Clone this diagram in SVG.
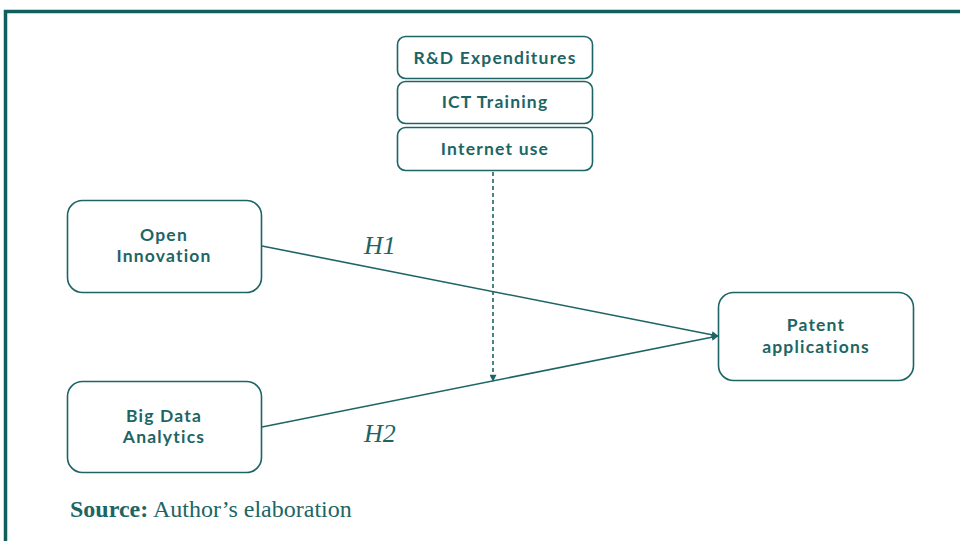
<svg xmlns="http://www.w3.org/2000/svg" width="960" height="541" viewBox="0 0 960 541">
<style>
.box{fill:#fff;stroke:#1d6565;stroke-width:1.6}
.t{font-family:Lato,"Open Sans",sans-serif;font-size:17.5px;font-weight:bold;letter-spacing:1.2px;fill:#1d6565;text-anchor:middle}
.h{font-family:"Liberation Serif",serif;font-style:italic;font-size:26px;fill:#1d6565}
.c{stroke:#1d6565;stroke-width:1.6;fill:none}
</style>
<defs>
<marker id="a" viewBox="0 0 10 10" refX="9" refY="5" markerWidth="8" markerHeight="7" orient="auto" markerUnits="userSpaceOnUse"><path d="M0,0L10,5L0,10z" fill="#1d6565"/></marker>
</defs>
<rect width="960" height="541" fill="#fff"/>
<path d="M5.5,541V11.5H960" stroke="#0f5f5f" stroke-width="3.5" fill="none"/>
<g id="rd"><rect class="box" x="397.5" y="36.5" width="195" height="42" rx="8"/><text class="t" x="495" y="64">R&amp;D Expenditures</text></g>
<g id="ict"><rect class="box" x="397.5" y="81.5" width="195" height="42" rx="8"/><text class="t" x="495" y="108">ICT Training</text></g>
<g id="internet"><rect class="box" x="397.5" y="127.5" width="195" height="43" rx="8"/><text class="t" x="495" y="155">Internet use</text></g>
<g id="open"><rect class="box" x="67.5" y="200.5" width="194" height="92" rx="15"/><text class="t" x="164" y="241">Open</text><text class="t" x="164" y="262">Innovation</text></g>
<g id="bigdata"><rect class="box" x="67.5" y="381.5" width="194" height="91" rx="15"/><text class="t" x="164" y="422">Big Data</text><text class="t" x="164" y="443">Analytics</text></g>
<g id="patent"><rect class="box" x="718.5" y="292.5" width="195" height="88" rx="15"/><text class="t" x="816" y="331">Patent</text><text class="t" x="816" y="353">applications</text></g>
<g id="connectors">
<line class="c" x1="262" y1="246" x2="718" y2="336" marker-end="url(#a)"/>
<line class="c" x1="262" y1="427" x2="718" y2="336" marker-end="url(#a)"/>
<line class="c" x1="493" y1="172" x2="493" y2="381" stroke-dasharray="4,3" marker-end="url(#a)"/>
</g>
<text class="h" x="364" y="254">H1</text>
<text class="h" x="364" y="442">H2</text>
<text x="70" y="517" font-family="Liberation Serif,serif" font-size="24" fill="#1d6565"><tspan font-weight="bold">Source:</tspan> Author’s elaboration</text>
</svg>
